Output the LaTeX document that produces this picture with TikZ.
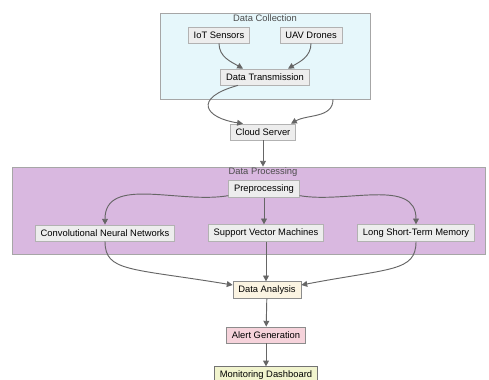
\documentclass[tikz,border=0pt]{standalone}
\usepackage{fontspec}
\setmainfont{Liberation Sans}
\usepackage{xcolor}
\definecolor{collectcyan}{HTML}{E6F7FB}
\definecolor{procpurple}{HTML}{D9B8E0}
\definecolor{boxgray}{HTML}{EDEDED}
\definecolor{edgegray}{HTML}{666666}
\definecolor{analysiscream}{HTML}{FBF4E2}
\definecolor{alertpink}{HTML}{F6D3DB}
\definecolor{dashgreen}{HTML}{F1F4CE}
\usetikzlibrary{arrows.meta,positioning,calc}

\begin{document}
\begin{tikzpicture}[x=0.03cm,y=-0.03cm,
      grp/.style={draw=black!35, line width=0.6pt, inner sep=0pt},
      grptitle/.style={font=\fontsize{8}{9.6}\selectfont, text=black!70},
      blk/.style={draw=black!30, line width=0.6pt, fill=boxgray, font=\fontsize{8}{9.6}\selectfont, inner xsep=0.16cm, minimum height=0.48cm},
      flow/.style={draw=edgegray, line width=0.8pt, -{Triangle[length=5pt,width=5pt]}}
    ]
    \useasboundingbox (0,0) rectangle (489,379);
    % groups
    \node[grp, fill=collectcyan, minimum width=6.3cm, minimum height=2.58cm] (collect) at (265,56) {};
    \node[grptitle] (collecttitle) at (265,18) {Data Collection};
    \node[grp, fill=procpurple, minimum width=14.2cm, minimum height=2.61cm] (proc) at (249,210.5) {};
    \node[grptitle] (proctitle) at (263,172) {Data Processing};
    % nodes
    \node[blk] (iot) at (219,35) {IoT Sensors};
    \node[blk] (uav) at (311,35) {UAV Drones};
    \node[blk] (trans) at (265,77) {Data Transmission};
    \node[blk] (cloud) at (263,132) {Cloud Server};
    \node[blk] (prep) at (264,189) {Preprocessing};
    \node[blk] (cnn) at (105,233) {Convolutional Neural Networks};
    \node[blk] (svm) at (266,233) {Support Vector Machines};
    \node[blk] (lstm) at (416,233) {Long Short-Term Memory};
    \node[blk, fill=analysiscream, draw=black!45] (ana) at (267,290) {Data Analysis};
    \node[blk, fill=alertpink, draw=black!45] (alert) at (266,335) {Alert Generation};
    \node[blk, fill=dashgreen, draw=black!55] (dash) at (266,375) {Monitoring Dashboard};
    \coordinate (collectout) at ($(collect.south)+(68,0)$);
    % edges
    \draw[flow] (iot.south) to[out=-90,in=150] ($(trans.north)+(-22,0)$);
    \draw[flow] (uav.south) to[out=-90,in=30] ($(trans.north)+(23,0)$);
    \draw[flow] ($(trans.south)+(-27,0)$) .. controls (192,98) and (205,118) .. ($(cloud.north)+(-20,0)$);
    \draw[flow] (collectout) to[out=-90,in=30] ($(cloud.north)+(28,0)$);
    \draw[flow] (cloud.south) -- (cloud.south |- proc.north);
    \draw[flow] ($(prep.south west)+(0,-2)$) to[out=190,in=90] (cnn.north);
    \draw[flow] (prep.south) -- (prep.south |- svm.north);
    \draw[flow] ($(prep.south east)+(0,-2)$) to[out=-10,in=90] (lstm.north);
    \draw[flow] (cnn.south) .. controls (105,272) and (130,268) .. ($(ana.west)+(0,-5)$);
    \draw[flow] (svm.south) -- (svm.south |- ana.north);
    \draw[flow] (lstm.south) .. controls (416,272) and (390,268) .. ($(ana.east)+(0,-5)$);
    \draw[flow] (ana) -- (alert);
    \draw[flow] (alert) -- (dash);
  \end{tikzpicture}
\end{document}
